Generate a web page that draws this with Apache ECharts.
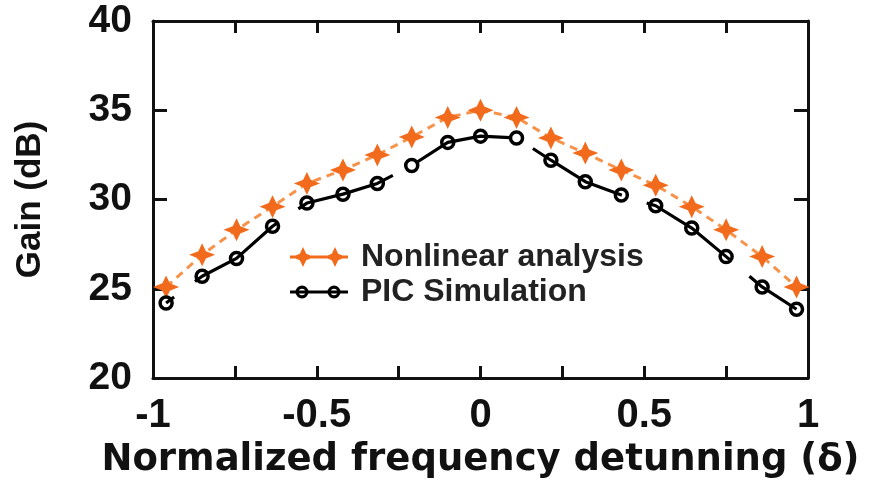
<!DOCTYPE html>
<html>
<head>
<meta charset="utf-8">
<script src="https://cdn.jsdelivr.net/npm/echarts@6/dist/echarts.min.js"></script>
<style>
html,body{margin:0;padding:0;background:#fff;}
#chart{width:870px;height:490px;}
</style>
</head>
<body>
<div id="chart"></div>
<script>
// ---- data ----
var detuning = [-0.96, -0.85, -0.745, -0.635, -0.53, -0.42, -0.315, -0.21, -0.1, 0, 0.11, 0.215, 0.32, 0.43, 0.535, 0.645, 0.75, 0.86, 0.965];
var nonlinearGain = [25.1, 26.9, 28.3, 29.6, 30.9, 31.65, 32.5, 33.5, 34.6, 35.0, 34.6, 33.45, 32.6, 31.65, 30.8, 29.6, 28.3, 26.8, 25.1];
var picGain = [24.2, 25.7, 26.7, 28.5, 29.8, 30.3, 30.9, 31.9, 33.2, 33.55, 33.45, 32.2, 31.0, 30.25, 29.65, 28.4, 26.8, 25.1, 23.85];
var seriesNames = ['Nonlinear analysis', 'PIC Simulation'];
var xTitle = 'Normalized frequency detunning (\u03b4)';
var yTitle = 'Gain (dB)';

function pairs(xs, ys) { return xs.map(function (x, i) { return [x, ys[i]]; }); }

var starPath = 'path://M0,-10 L3.2,-3.2 L11,0 L3.2,3.2 L0,10 L-3.2,3.2 L-11,0 L-3.2,-3.2 Z';
function starAt(cx) {
  return 'M' + cx + ',0 L' + (cx + 3.2) + ',6.8 L' + (cx + 11) + ',10 L' + (cx + 3.2) + ',13.2 L' + cx + ',20 L' +
    (cx - 3.2) + ',13.2 L' + (cx - 11) + ',10 L' + (cx - 3.2) + ',6.8 Z ';
}
function ringAt(cx) {
  return 'M' + (cx - 6.5) + ',10 A6.5,6.5 0 1,1 ' + (cx + 6.5) + ',10 A6.5,6.5 0 1,1 ' + (cx - 6.5) + ',10 Z ' +
    'M' + (cx - 3.2) + ',10 A3.2,3.2 0 1,0 ' + (cx + 3.2) + ',10 A3.2,3.2 0 1,0 ' + (cx - 3.2) + ',10 Z ';
}
var barPath = 'M0,8.4 L58,8.4 L58,11.6 L0,11.6 Z ';
var starLegendIcon = 'path://' + barPath + starAt(13) + starAt(45);
var ringLegendIcon = 'path://M0,0 L0.01,0 L0.01,0.01 Z M58,20 L57.99,20 L57.99,19.99 Z ' + barPath + ringAt(12) + ringAt(44);

var orange = '#F26B1D';

var chart = echarts.init(document.getElementById('chart'), null, {renderer: 'canvas'});
var axisLineStyle = {color: '#111', width: 3};
var tickStyle = {color: '#111', width: 3};

chart.setOption({
  animation: false,
  backgroundColor: '#fff',
  grid: {left: 153, right: 62, top: 21, bottom: 112, containLabel: false},
  legend: {
    orient: 'vertical',
    left: 285,
    top: 236,
    itemWidth: 58,
    itemHeight: 20,
    itemGap: 3,
    textStyle: {fontFamily: 'Liberation Sans', fontWeight: 'bold', fontSize: 32, color: '#222', padding: [0, 0, 0, 8]},
    data: [
      {name: seriesNames[0], icon: starLegendIcon, itemStyle: {color: orange, borderWidth: 0}},
      {name: seriesNames[1], icon: ringLegendIcon, itemStyle: {color: '#000', borderWidth: 0}}
    ]
  },
  xAxis: [{
    type: 'value', min: -1, max: 1, interval: 0.25, position: 'bottom',
    name: xTitle, nameLocation: 'middle', nameGap: 64,
    nameTextStyle: {fontFamily: 'DejaVu Sans', fontWeight: 'bold', fontSize: 37, color: '#111'},
    axisLine: {show: true, onZero: false, lineStyle: axisLineStyle},
    axisTick: {show: true, inside: true, length: 12, lineStyle: tickStyle},
    axisLabel: {
      margin: 18, fontFamily: 'Liberation Sans', fontWeight: 'bold', fontSize: 40, color: '#111',
      formatter: function (v) { return Math.abs(v * 2 - Math.round(v * 2)) < 1e-9 ? String(v) : ''; }
    },
    splitLine: {show: false}
  }, {
    type: 'value', min: -1, max: 1, interval: 0.25, position: 'top',
    axisLine: {show: true, onZero: false, lineStyle: axisLineStyle},
    axisTick: {show: true, inside: true, length: 12, lineStyle: tickStyle},
    axisLabel: {show: false},
    splitLine: {show: false}
  }],
  yAxis: [{
    type: 'value', min: 20, max: 40, interval: 5, position: 'left',
    name: yTitle, nameLocation: 'middle', nameGap: 105, nameRotate: 90,
    nameTextStyle: {fontFamily: 'Liberation Sans', fontWeight: 'bold', fontSize: 35, color: '#111'},
    axisLine: {show: true, onZero: false, lineStyle: axisLineStyle},
    axisTick: {show: true, inside: true, length: 14, lineStyle: tickStyle},
    axisLabel: {margin: 21, fontFamily: 'Liberation Sans', fontWeight: 'bold', fontSize: 39, color: '#111'},
    splitLine: {show: false}
  }, {
    type: 'value', min: 20, max: 40, interval: 5, position: 'right',
    axisLine: {show: true, onZero: false, lineStyle: axisLineStyle},
    axisTick: {show: true, inside: true, length: 14, lineStyle: tickStyle},
    axisLabel: {show: false},
    splitLine: {show: false}
  }],
  series: [{
    name: seriesNames[0],
    type: 'line',
    xAxisIndex: 0, yAxisIndex: 0,
    data: pairs(detuning, nonlinearGain),
    symbol: starPath,
    symbolSize: [26, 23],
    itemStyle: {color: orange, borderWidth: 0},
    lineStyle: {color: '#F6924A', width: 3, type: [8, 6]},
    z: 2
  }, {
    name: seriesNames[1],
    type: 'line',
    xAxisIndex: 0, yAxisIndex: 0,
    data: pairs(detuning, picGain),
    symbol: 'circle',
    symbolSize: 12,
    itemStyle: {color: 'rgba(255,255,255,0)', borderColor: '#000', borderWidth: 3.5},
    lineStyle: {color: '#000', width: 3.2, type: [101, 26], dashOffset: 91},
    z: 3
  }]
});
</script>
</body>
</html>
